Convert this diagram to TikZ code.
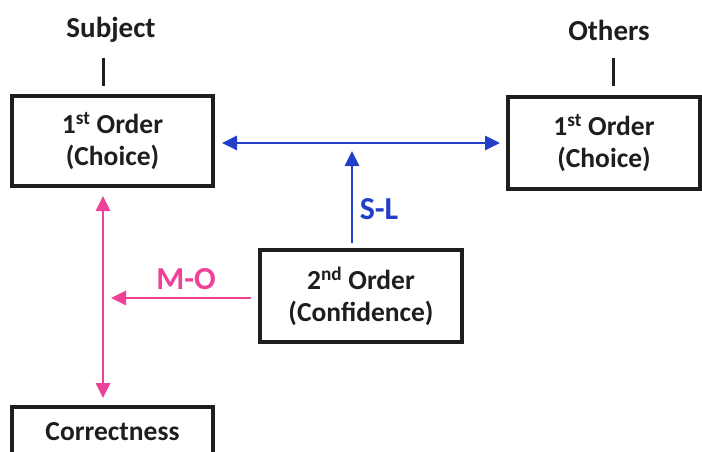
\documentclass[tikz,border=0pt]{standalone}
\usepackage{fontspec}
\setmainfont{Carlito}
\usetikzlibrary{arrows.meta}
\definecolor{slblue}{RGB}{35,62,200}
\definecolor{mopink}{RGB}{238,66,152}
\definecolor{ink}{RGB}{30,30,30}
\tikzset{
  txt/.style={font=\bfseries\fontsize{27.5}{31}\selectfont, text=ink},
  head/.style={font=\bfseries\fontsize{29}{33}\selectfont, text=ink},
  lbl/.style={font=\bfseries\fontsize{32}{36}\selectfont},
  box/.style={txt, draw=ink, line width=3.2pt, align=center, inner sep=0pt},
  tick/.style={draw=ink, line width=3pt},
  tip/.tip={Triangle[length=15pt,width=14pt]},
  bluearrow/.style={slblue, line width=2.8pt, -tip},
  pinkarrow/.style={mopink, line width=2.8pt, -tip},
}
\begin{document}
\begin{tikzpicture}[x=1pt,y=-1pt]
\useasboundingbox (0,0) rectangle (702,451);

% headings
\node[head] (subj) at (111,30) {Subject};
\node[head] (oth)  at (609,30) {Others};
\coordinate (s1) at (103,58); \coordinate (s2) at (103,86);
\coordinate (o1) at (613,58); \coordinate (o2) at (613,86);
\draw[tick] (s1) -- (s2);
\draw[tick] (o1) -- (o2);

% boxes
\node[box, minimum width=201pt, minimum height=90pt] (L) at (112.5,141)
  {1\textsuperscript{st} Order\\[1pt](Choice)};
\node[box, minimum width=192pt, minimum height=92pt] (R) at (604,143)
  {1\textsuperscript{st} Order\\[1pt](Choice)};
\node[box, minimum width=202pt, minimum height=92pt] (M) at (361,296)
  {2\textsuperscript{nd} Order\\[1pt](Confidence)};
\node[box, minimum width=201pt, minimum height=50pt] (C) at (112.5,432)
  {Correctness};

% Subject <-> Others
\coordinate (b1) at (222,143); \coordinate (b2) at (500,143);
\draw[bluearrow, tip-tip] (b1) -- (b2);

% S-L link
\coordinate (u1) at (352,243); \coordinate (u2) at (352,151);
\draw[bluearrow] (u1) -- (u2);
\node[lbl, text=slblue] (sl) at (379,209) {S-L};

% M-O link
\coordinate (h1) at (251,298); \coordinate (h2) at (111,298);
\draw[pinkarrow] (h1) -- (h2);
\node[lbl, text=mopink] (mo) at (186,279) {M-O};

% Choice <-> Correctness
\coordinate (v1) at (103,196); \coordinate (v2) at (103,398);
\draw[pinkarrow, tip-tip] (v1) -- (v2);
\end{tikzpicture}
\end{document}
